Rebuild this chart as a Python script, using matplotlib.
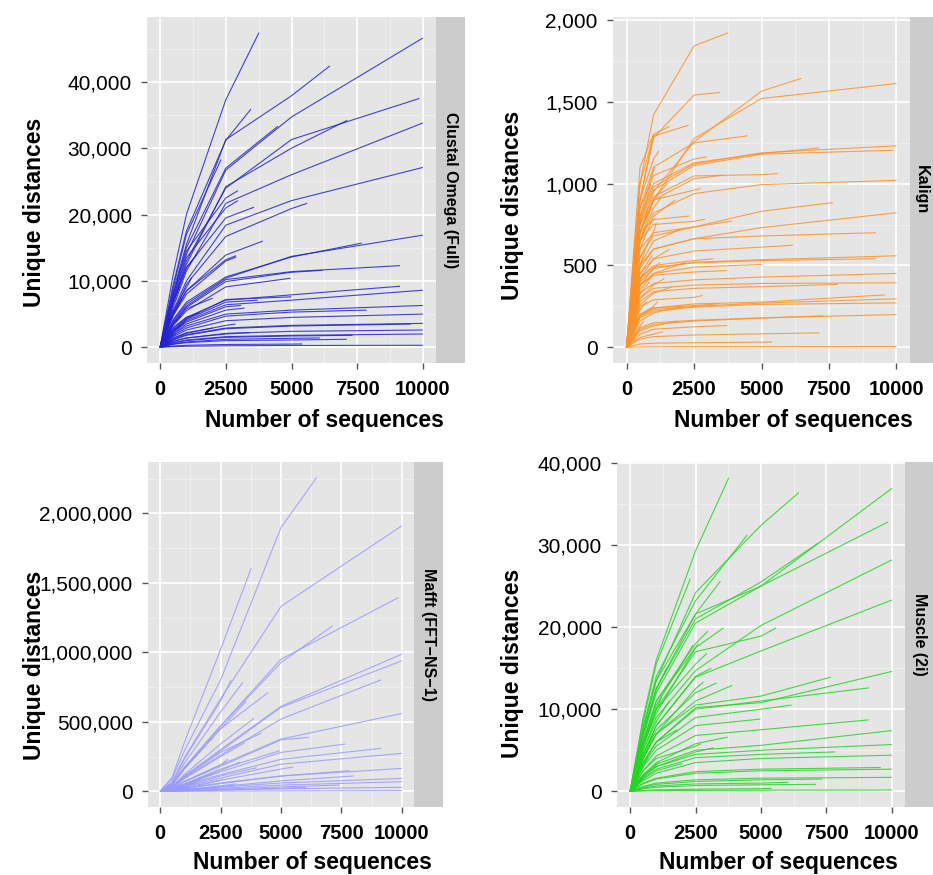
import matplotlib
matplotlib.use('Agg')
import matplotlib.pyplot as plt
from matplotlib.ticker import MultipleLocator, FuncFormatter

plt.rcParams['font.family'] = ['Liberation Sans', 'DejaVu Sans']

# sample sizes at which each family was measured (before its own final size)
n_grid = [500, 1000, 2500, 5000]

# each entry: (family size, unique distances at the n_grid points below it + at the family size)
clustal_lines = [
    (3760, [11000, 20000, 37300, 47400]),
    (6460, [8500, 15500, 31300, 37900, 42400]),
    (10000, [7500, 14000, 26700, 34700, 46600]),
    (3460, [9500, 17500, 31200, 35900]),
    (9870, [7000, 13000, 24000, 31300, 37500]),
    (7120, [7000, 12500, 24200, 30000, 34200]),
    (10000, [6000, 11500, 21700, 26000, 33800]),
    (4480, [8000, 15000, 27000, 33300]),
    (10000, [5500, 10000, 18400, 22100, 27100]),
    (5600, [5000, 9500, 16700, 20900, 21700]),
    (2320, [9000, 17000, 28300]),
    (2960, [8000, 14500, 22500, 23600]),
    (2960, [7500, 13500, 21000, 22100]),
    (3570, [6500, 12000, 19500, 21100]),
    (3910, [5000, 8500, 13900, 16000]),
    (2890, [5000, 8500, 13200, 13800]),
    (2890, [4800, 8000, 13000, 13600]),
    (10000, [4000, 6500, 10400, 13700, 16900]),
    (7670, [4200, 6800, 10600, 13600, 15700]),
    (9130, [3800, 6200, 10200, 11400, 12300]),
    (6180, [3600, 6000, 9900, 11300, 11600]),
    (4960, [3300, 5500, 9100, 10400]),
    (9130, [2800, 4500, 7100, 7900, 9200]),
    (10000, [2500, 4000, 6400, 7100, 8600]),
    (5000, [2600, 4300, 7200, 7600]),
    (3720, [2500, 4200, 6800, 7100]),
    (10000, [2000, 3200, 5000, 5600, 6300]),
    (7860, [1800, 2900, 4700, 5300, 5600]),
    (10000, [1600, 2600, 4000, 4500, 5000]),
    (3080, [2300, 3800, 6100, 6300]),
    (3210, [2100, 3500, 5600, 5900]),
    (10000, [1200, 1900, 2900, 3300, 3600]),
    (9540, [1100, 1800, 2800, 3200, 3500]),
    (10000, [900, 1400, 2100, 2400, 2600]),
    (10000, [700, 1100, 1600, 1800, 2000]),
    (7320, [650, 1000, 1500, 1700, 1800]),
    (7100, [450, 700, 1000, 1100, 1200]),
    (6080, [500, 800, 1200, 1350, 1400]),
    (5410, [200, 300, 420, 480, 500]),
    (10000, [100, 150, 220, 270, 300]),
    (3400, [900, 1400, 2000, 2200]),
    (2870, [1300, 2100, 3300, 3500]),
    (2000, [1400, 2200, 2900]),
    (850, [5200, 7500]),
    (470, [5600]),
    (920, [2400, 3600]),
    (410, [4600]),
    (730, [6800, 9100]),
    (380, [2600]),
    (1200, [5500, 9000, 10500]),
    (1400, [7000, 12000, 14000]),
    (800, [3500, 4800]),
    (600, [1800, 2000]),
    (1500, [3000, 4500, 5200]),
    (2000, [3500, 5800, 7400]),
]

kalign_lines = [
    (3770, [1000, 1420, 1841, 1922]),
    (3470, [900, 1280, 1541, 1557]),
    (6470, [700, 950, 1255, 1565, 1643]),
    (10000, [650, 900, 1275, 1520, 1612]),
    (2300, [1000, 1290, 1357]),
    (4490, [850, 1100, 1249, 1292]),
    (7140, [800, 1000, 1127, 1184, 1218]),
    (10000, [780, 980, 1120, 1188, 1231]),
    (9880, [760, 960, 1110, 1180, 1204]),
    (2970, [850, 1050, 1150, 1163]),
    (5610, [750, 920, 1047, 1055, 1061]),
    (3590, [700, 900, 1030, 1051]),
    (10000, [650, 820, 939, 994, 1020]),
    (7650, [550, 680, 735, 831, 884]),
    (10000, [480, 600, 663, 731, 822]),
    (3910, [600, 700, 735, 771]),
    (2900, [650, 750, 770, 782]),
    (2330, [700, 780, 802]),
    (9230, [500, 600, 663, 680, 700]),
    (6160, [450, 540, 588, 612, 624]),
    (10000, [400, 480, 520, 535, 559]),
    (9230, [420, 490, 515, 530, 541]),
    (5000, [380, 450, 490, 506]),
    (3720, [380, 440, 460, 469]),
    (10000, [330, 390, 412, 429, 451]),
    (7830, [280, 340, 360, 370, 384]),
    (10000, [300, 360, 380, 390, 394]),
    (9570, [200, 240, 265, 276, 320]),
    (10000, [190, 230, 250, 270, 296]),
    (10000, [180, 220, 245, 262, 271]),
    (3400, [190, 240, 255, 265]),
    (2820, [250, 290, 305, 316]),
    (10000, [120, 150, 165, 180, 200]),
    (7280, [110, 140, 160, 178, 192]),
    (3720, [80, 110, 125, 133]),
    (7140, [50, 65, 75, 82, 88]),
    (5400, [20, 25, 28, 31, 33]),
    (10000, [2, 3, 4, 4, 5]),
    (3220, [420, 500, 530, 541]),
    (2750, [700, 900, 960, 970]),
    (1200, [900, 1150, 1200]),
    (1050, [800, 1080, 1100]),
    (900, [750, 1000]),
    (1500, [700, 900, 1000]),
    (1300, [650, 850, 920]),
    (800, [700, 850]),
    (1800, [600, 800, 900]),
    (1100, [550, 700, 760]),
    (700, [500, 600]),
    (2000, [500, 650, 720]),
    (950, [450, 560]),
    (1600, [420, 540, 600]),
    (600, [400, 450]),
    (1250, [380, 480, 520]),
    (2200, [350, 450, 520]),
    (850, [330, 400]),
    (1400, [300, 380, 420]),
    (450, [320]),
    (1700, [260, 330, 370]),
    (750, [230, 280]),
    (1150, [200, 250, 280]),
    (400, [180]),
    (2100, [160, 210, 250]),
    (650, [130, 160]),
    (1900, [100, 130, 160]),
    (350, [90]),
    (1350, [60, 80, 95]),
    (1000, [900, 1300]),
    (1600, [1100, 1300, 1350]),
]

mafft_lines = [
    (6470, [90000, 290000, 800000, 1897000, 2256000]),
    (3770, [100000, 350000, 1020000, 1605000]),
    (10000, [70000, 240000, 665000, 1330000, 1910000]),
    (9860, [50000, 170000, 470000, 950000, 1394000]),
    (7130, [50000, 170000, 470000, 926000, 1190000]),
    (10000, [35000, 110000, 300000, 611000, 987000]),
    (10000, [33000, 105000, 290000, 604000, 939000]),
    (9140, [30000, 95000, 260000, 520000, 802000]),
    (2940, [60000, 230000, 650000, 800000]),
    (3420, [55000, 200000, 570000, 783000]),
    (4470, [45000, 160000, 450000, 711000]),
    (3560, [45000, 160000, 450000, 647000]),
    (3880, [35000, 120000, 340000, 525000]),
    (10000, [20000, 70000, 190000, 376000, 560000]),
    (6160, [20000, 70000, 180000, 370000, 388000]),
    (7650, [15000, 50000, 140000, 280000, 340000]),
    (9140, [13000, 45000, 120000, 230000, 309000]),
    (10000, [10000, 32000, 95000, 195000, 273000]),
    (4950, [15000, 55000, 160000, 292000]),
    (10000, [6000, 20000, 60000, 110000, 165000]),
    (7850, [6000, 20000, 55000, 110000, 149000]),
    (10000, [3000, 10000, 30000, 60000, 93000]),
    (10000, [2500, 8000, 22000, 45000, 69000]),
    (10000, [1000, 3000, 9000, 18000, 29000]),
    (10000, [200, 500, 1500, 3000, 5000]),
    (7440, [1500, 5000, 15000, 32000, 45000]),
    (6050, [1000, 3500, 10000, 22000, 29000]),
    (3140, [2500, 9000, 40000, 53000]),
    (2590, [4000, 15000, 80000, 89000]),
    (1900, [6000, 25000, 112000]),
    (2800, [20000, 70000, 190000, 230000]),
    (3300, [15000, 50000, 150000, 210000]),
    (2200, [10000, 40000, 130000]),
    (1500, [8000, 30000, 70000]),
    (4000, [10000, 35000, 110000, 170000]),
    (5500, [8000, 28000, 80000, 160000, 175000]),
    (1200, [5000, 20000, 30000]),
    (3500, [25000, 90000, 250000, 350000]),
    (4200, [30000, 100000, 280000, 420000]),
    (8000, [3000, 12000, 35000, 75000, 110000]),
]

muscle_lines = [
    (3770, [9000, 16000, 29300, 38200]),
    (6450, [7500, 13500, 24200, 32400, 36400]),
    (10000, [7000, 12500, 21600, 25000, 36900]),
    (7170, [7000, 12500, 21000, 25500, 30200]),
    (9850, [6500, 12000, 20500, 25000, 32800]),
    (10000, [5000, 9000, 14700, 20200, 28200]),
    (10000, [4500, 8000, 13900, 17100, 23300]),
    (4470, [8000, 14000, 23200, 31200]),
    (3450, [7500, 13500, 21600, 25600]),
    (2300, [8500, 15500, 25900]),
    (5580, [5500, 10000, 17000, 18900, 19900]),
    (3570, [6000, 11000, 17500, 19900]),
    (2970, [6000, 11000, 18000, 19500]),
    (2930, [5500, 10000, 15500, 16800]),
    (3900, [4000, 7000, 11000, 12900]),
    (7660, [4000, 7000, 10500, 11600, 13900]),
    (10000, [3500, 6000, 10200, 10800, 14600]),
    (9120, [3500, 6000, 10000, 11000, 12600]),
    (6170, [3300, 5500, 9000, 10000, 10500]),
    (4980, [3000, 5000, 8000, 8800]),
    (9120, [2500, 4300, 6800, 7500, 8700]),
    (10000, [2000, 3300, 5000, 5600, 7400]),
    (10000, [1800, 3000, 4500, 5000, 5700]),
    (7830, [1600, 2700, 4100, 4500, 4800]),
    (10000, [1300, 2200, 3500, 4000, 4400]),
    (9570, [1000, 1600, 2400, 2700, 2900]),
    (10000, [900, 1500, 2200, 2500, 2700]),
    (10000, [600, 1000, 1400, 1600, 1700]),
    (7340, [500, 850, 1200, 1400, 1500]),
    (7100, [300, 500, 700, 800, 850]),
    (6050, [400, 650, 900, 1000, 1100]),
    (5390, [100, 180, 260, 320, 360]),
    (10000, [50, 80, 110, 140, 160]),
    (3200, [1800, 3000, 4800, 5300]),
    (3730, [2000, 3500, 5800, 6600]),
    (2700, [2500, 4000, 5500, 5800]),
    (2800, [4000, 7000, 12500, 13300]),
    (3100, [4500, 8000, 14000, 15000]),
    (2600, [5500, 9500, 17500, 18000]),
    (2400, [6000, 10500, 17800]),
    (3300, [4200, 7500, 12000, 13200]),
    (1200, [6000, 10000, 11500]),
    (900, [4500, 7000]),
    (1500, [5000, 8500, 11000]),
    (700, [3000, 4200]),
    (450, [2800]),
    (1800, [3500, 6000, 7500]),
    (1100, [2000, 3200, 3500]),
    (600, [1500, 1800]),
    (2000, [1500, 2500, 3400]),
    (1400, [7000, 12500, 15000]),
]

W, H = 933, 875
fig = plt.figure(figsize=(W / 100, H / 100), dpi=100)


def px_axes(l, t, r, b):
    return fig.add_axes([l / W, 1 - b / H, (r - l) / W, (b - t) / H])


panels = [
    # lines, colour, strip label, y step, panel box, strip right, xlabel pos, ylabel pos
    (clustal_lines, '#2323d2', 'Clustal Omega (Full)', 10000, (147, 17, 436, 363), 465, (324, 421), (35, 212)),
    (kalign_lines, '#ff9226', 'Kalign', 500, (613, 17, 910, 363), 940, (793, 421), (512, 205)),
    (mafft_lines, '#9a9aff', 'Mafft (FFT\u2212NS\u22121)', 500000, (148, 462, 414, 807), 443, (312, 862), (35, 665)),
    (muscle_lines, '#22d622', 'Muscle (2i)', 10000, (617, 462, 905, 807), 940, (778, 862), (513, 663)),
]

for lines, colour, label, ystep, box, strip_r, xl, yl in panels:
    ax = px_axes(*box)
    ax.set_facecolor('#e5e5e5')
    ymax = 0
    for n_end, vals in lines:
        xs = [0] + [g for g in n_grid if g < n_end] + [n_end]
        ys = [0] + vals
        ax.plot(xs, ys, color=colour, lw=0.8, alpha=0.85, solid_capstyle='butt')
        ymax = max(ymax, max(vals))
    ax.set_xlim(-500, 10500)
    ax.set_ylim(-0.05 * ymax, 1.05 * ymax)
    ax.xaxis.set_major_locator(MultipleLocator(2500))
    ax.xaxis.set_minor_locator(MultipleLocator(1250))
    ax.yaxis.set_major_locator(MultipleLocator(ystep))
    ax.yaxis.set_minor_locator(MultipleLocator(ystep / 2))
    ax.yaxis.set_major_formatter(FuncFormatter(lambda v, p: f'{v:,.0f}'))
    ax.grid(which='major', color='white', lw=1.2)
    ax.grid(which='minor', color='#f2f2f2', lw=0.6)
    ax.set_axisbelow(True)
    for s in ax.spines.values():
        s.set_visible(False)
    ax.tick_params(which='major', length=4.5, width=1, color='#555555', labelsize=15)
    ax.tick_params(axis='y', pad=6.5)
    ax.tick_params(axis='x', pad=8, labelsize=14.5)
    ax.tick_params(which='minor', length=0)
    for t in ax.get_xticklabels():
        t.set_fontweight('bold')

    # facet strip on the right
    sax = px_axes(box[2], box[1], strip_r, box[3])
    sax.set_facecolor('#cccccc')
    sax.set_xticks([])
    sax.set_yticks([])
    for s in sax.spines.values():
        s.set_visible(False)
    sw = min(strip_r, W) - box[2]
    sax.text(0.5 * sw / (strip_r - box[2]), 0.5, label, rotation=-90, ha='center', va='center',
             fontsize=11.5, fontweight='bold', transform=sax.transAxes)

    fig.text(xl[0] / W, 1 - xl[1] / H, 'Number of sequences', ha='center', va='center',
             fontsize=16.5, fontweight='bold')
    fig.text(yl[0] / W, 1 - yl[1] / H, 'Unique distances', ha='center', va='center',
             rotation=90, fontsize=16.5, fontweight='bold')

fig.savefig('out.png', dpi=100)
